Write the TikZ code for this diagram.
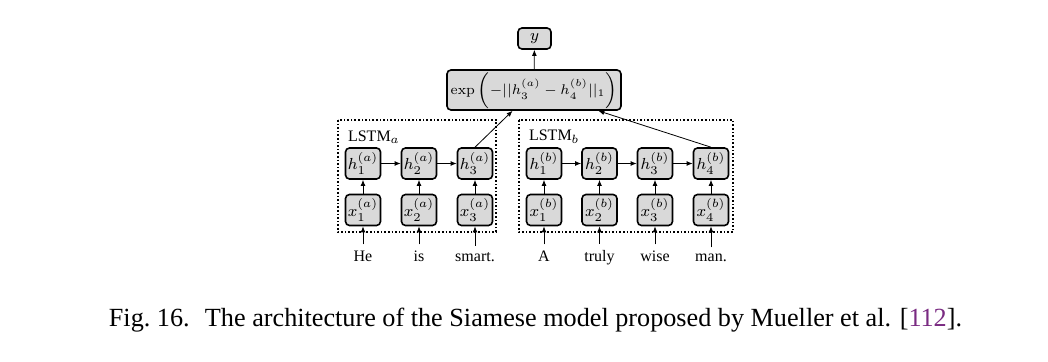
\documentclass[tikz,border=0pt]{standalone}
\usepackage[no-math]{fontspec}
\setmainfont{Liberation Serif}
\usetikzlibrary{arrows.meta, positioning}
\definecolor{citepurple}{RGB}{122,43,130}

\begin{document}
\begin{tikzpicture}[
    x=0.5pt, y=-0.5pt, % one unit = one pixel of the reference
    >={Latex[length=3pt,width=2.4pt]}, % Small arrow tips
    cell/.style={draw, thick, fill=black!15, rounded corners=2pt, minimum width=17.5pt, minimum height=15.5pt, inner sep=0pt, font=\fontsize{8}{9.6}\selectfont}, % Style for states
    word/.style={anchor=base, font=\fontsize{8}{9.6}\selectfont}, % Style for input words
    group/.style={draw, densely dotted, thick} % Style for the LSTM frames
]
\useasboundingbox (0,0) rectangle (1048,362);

% LSTM frames
\draw[group] (338,120) rectangle (496,232);
\draw[group] (519,120) rectangle (733,232);
\node[anchor=west, font=\fontsize{8}{9.6}\selectfont] (labA) at (341,137) {LSTM$_a$};
\node[anchor=west, font=\fontsize{8}{9.6}\selectfont] (labB) at (522,137) {LSTM$_b$};

% Output and distance
\node[cell, minimum width=16.5pt, minimum height=10.5pt] (out) at (534.5,38.5) {$y$};
\node[cell, minimum width=87pt, minimum height=20pt, font=\fontsize{7.2}{8.6}\selectfont] (dist) at (534,90) {$\exp\,\Bigl(-||h_3^{(a)} - h_4^{(b)}||_1\Bigr)$};

% Hidden states, sentence a
\node[cell] (h1a) at (363,163.5) {$h_1^{(a)}$};
\node[cell] (h2a) at (419,163.5) {$h_2^{(a)}$};
\node[cell] (h3a) at (475,163.5) {$h_3^{(a)}$};
% Hidden states, sentence b
\node[cell] (h1b) at (544,163.5) {$h_1^{(b)}$};
\node[cell] (h2b) at (599.5,163.5) {$h_2^{(b)}$};
\node[cell] (h3b) at (655,163.5) {$h_3^{(b)}$};
\node[cell] (h4b) at (711,163.5) {$h_4^{(b)}$};

% Inputs, sentence a
\node[cell] (x1a) at (363,210) {$x_1^{(a)}$};
\node[cell] (x2a) at (419,210) {$x_2^{(a)}$};
\node[cell] (x3a) at (475,210) {$x_3^{(a)}$};
% Inputs, sentence b
\node[cell] (x1b) at (544,210) {$x_1^{(b)}$};
\node[cell] (x2b) at (599.5,210) {$x_2^{(b)}$};
\node[cell] (x3b) at (655,210) {$x_3^{(b)}$};
\node[cell] (x4b) at (711,210) {$x_4^{(b)}$};

% Words
\node[word] (w1a) at (363,262) {He};
\node[word] (w2a) at (419,262) {is};
\node[word] (w3a) at (475,262) {smart.};
\node[word] (w1b) at (544,262) {A};
\node[word] (w2b) at (599.5,262) {truly};
\node[word] (w3b) at (655,262) {wise};
\node[word] (w4b) at (711,262) {man.};

% Words to inputs
\draw[->] (w1a) -- (x1a);
\draw[->] (w2a) -- (x2a);
\draw[->] (w3a) -- (x3a);
\draw[->] (w1b) -- (x1b);
\draw[->] (w2b) -- (x2b);
\draw[->] (w3b) -- (x3b);
\draw[->] (w4b) -- (x4b);

% Inputs to states
\draw[->] (x1a) -- (h1a);
\draw[->] (x2a) -- (h2a);
\draw[->] (x3a) -- (h3a);
\draw[->] (x1b) -- (h1b);
\draw[->] (x2b) -- (h2b);
\draw[->] (x3b) -- (h3b);
\draw[->] (x4b) -- (h4b);

% Recurrence
\draw[->] (h1a) -- (h2a);
\draw[->] (h2a) -- (h3a);
\draw[->] (h1b) -- (h2b);
\draw[->] (h2b) -- (h3b);
\draw[->] (h3b) -- (h4b);

% Last states to distance, distance to output
\draw[->] (h3a.north) -- (dist);
\draw[->] (h4b.north) -- (dist);
\draw[->] (dist) -- (out);

% Caption
\node[anchor=base, font=\fontsize{13.1}{15.5}\selectfont] (caption) at (535.5,327) {Fig.~16.\hspace{0.25em} The architecture of the Siamese model proposed by Mueller et al. [{\color{citepurple}112}].};

\end{tikzpicture}
\end{document}
